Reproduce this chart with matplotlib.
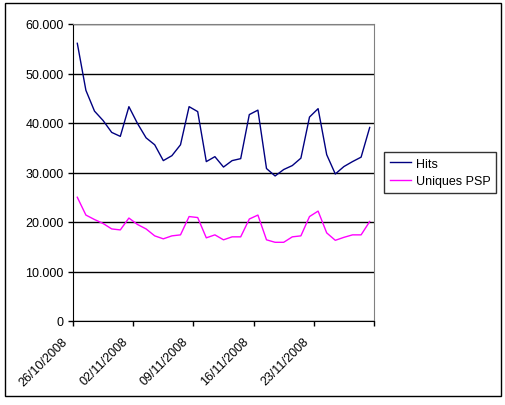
import matplotlib
matplotlib.use("Agg")
import matplotlib.pyplot as plt
import matplotlib.transforms as mtransforms
from matplotlib.patches import Rectangle
from matplotlib.ticker import FuncFormatter, FixedLocator

plt.rcParams['font.family'] = ['Liberation Sans', 'DejaVu Sans']

# daily values, 26/10/2008 .. 29/11/2008
hits = [56100, 46600, 42400, 40500, 38100, 37300, 43300, 39900, 37000, 35600,
        32400, 33400, 35600, 43300, 42300, 32200, 33200, 31100, 32400, 32800,
        41700, 42600, 30800, 29300, 30600, 31400, 32900, 41200, 42900, 33600,
        29700, 31200, 32200, 33100, 39100]
uniques = [25000, 21400, 20500, 19700, 18600, 18400, 20800, 19500, 18600, 17200,
           16600, 17200, 17400, 21100, 20900, 16800, 17400, 16400, 17000, 17000,
           20600, 21400, 16400, 15900, 15900, 17000, 17200, 21100, 22200, 17800,
           16300, 16900, 17400, 17400, 20100]
date_labels = ["26/10/2008", "02/11/2008", "09/11/2008", "16/11/2008", "23/11/2008", ""]

W, H = 506, 406
fig = plt.figure(figsize=(W / 100, H / 100), dpi=100)
ax = fig.add_axes([73 / W, (H - 322) / H, (374 - 73) / W, (322 - 25) / H])

xs = list(range(len(hits)))
ax.plot(xs, hits, color="#000080", lw=1.0, label="Hits")
ax.plot(xs, uniques, color="#FF00FF", lw=1.0, label="Uniques PSP")

ax.set_xlim(-0.5, len(hits) - 0.5)
ax.set_ylim(0, 60000)
ax.yaxis.set_major_locator(FixedLocator(range(0, 60001, 10000)))
ax.yaxis.set_major_formatter(FuncFormatter(
    lambda v, p: "0" if v == 0 else "{:,.0f}".format(v).replace(",", ".")))
ax.grid(axis="y", color="black", lw=1.0)
ax.set_axisbelow(True)

ticks = [-0.5 + 7 * i for i in range(len(date_labels))]
ax.set_xticks(ticks)
ax.set_xticklabels(date_labels, rotation=45, ha="right", va="center",
                   rotation_mode="anchor", fontsize=9)
ax.tick_params(axis="x", direction="out", length=3.6, width=1, pad=9.5)
ax.tick_params(axis="y", direction="out", length=3.6, width=1, labelsize=9, pad=3)
shift = mtransforms.ScaledTranslation(-7 / 100, 0, fig.dpi_scale_trans)
for lab in ax.get_xticklabels():
    lab.set_transform(lab.get_transform() + shift)

for side in ("top", "right"):
    ax.spines[side].set_color("#808080")
for side in ("left", "bottom"):
    ax.spines[side].set_color("black")

leg = ax.legend(loc="upper left", bbox_to_anchor=(384 / W, (H - 153) / H),
                bbox_transform=fig.transFigure, fontsize=9, frameon=True,
                fancybox=False, handlelength=1.7, borderpad=0.45,
                borderaxespad=0, labelspacing=0.42, handletextpad=0.4)
leg.get_frame().set_edgecolor("black")
leg.get_frame().set_linewidth(1.0)

fig.patches.append(Rectangle((5 / W, (H - 397) / H), (501 - 5) / W, (397 - 4) / H,
                             transform=fig.transFigure, fill=False,
                             edgecolor="black", lw=1.0))

fig.savefig("out.png", dpi=100)
